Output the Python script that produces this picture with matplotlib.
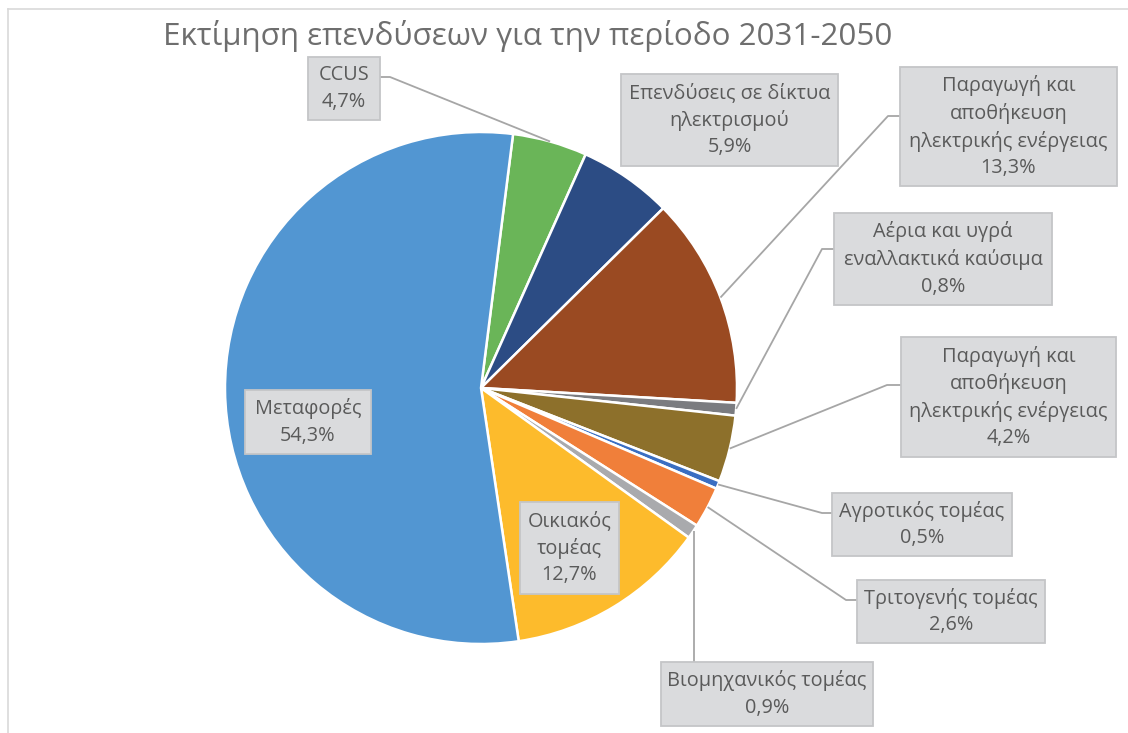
import numpy as np
import matplotlib
matplotlib.use("Agg")
import matplotlib.pyplot as plt
from matplotlib.patches import Rectangle

plt.rcParams['font.family'] = ['Open Sans', 'DejaVu Sans']

# Data (clockwise order from the first slice)
labels = ['CCUS', 'Επενδύσεις σε δίκτυα\nηλεκτρισμού',
          'Παραγωγή και\nαποθήκευση\nηλεκτρικής ενέργειας',
          'Αέρια και υγρά\nεναλλακτικά καύσιμα',
          'Παραγωγή και\nαποθήκευση\nηλεκτρικής ενέργειας',
          'Αγροτικός τομέας', 'Τριτογενής τομέας', 'Βιομηχανικός τομέας',
          'Οικιακός\nτομέας', 'Μεταφορές']
values = [4.7, 5.9, 13.3, 0.8, 4.2, 0.5, 2.6, 0.9, 12.7, 54.3]
pct_labels = ['4,7%', '5,9%', '13,3%', '0,8%', '4,2%', '0,5%', '2,6%', '0,9%', '12,7%', '54,3%']
colors = ['#6AB558', '#2C4C84', '#9A4A22', '#7B7C80', '#8D702B',
          '#3A6EC2', '#F07F3A', '#A9AAAD', '#FDBB2C', '#5296D2']
title = 'Εκτίμηση επενδύσεων για την περίοδο 2031-2050'

W, H = 1128, 733
fig = plt.figure(figsize=(W / 100, H / 100), dpi=100)
ax = fig.add_axes([0, 0, 1, 1])

cx, cy, r = 481, 388, 256
start_cw = 7.2  # degrees clockwise from 12 o'clock

ax.pie(values, colors=colors, startangle=90 - start_cw, counterclock=False,
       center=(cx, H - cy), radius=r,
       wedgeprops=dict(edgecolor='white', linewidth=1.8))
ax.set_xlim(0, W)
ax.set_ylim(0, H)
ax.set_aspect('equal')
ax.axis('off')

# chart border (top and left visible)
ax.plot([8, W], [H - 9, H - 9], color='#D9D9D9', lw=1.2)
ax.plot([8, 8], [H - 9, 0], color='#D9D9D9', lw=1.2)

ax.text(163, H - 36, title, fontsize=22.6, color='#6E6E6E', ha='left', va='center')

# label boxes: (x0, y0, x1, y1) in pixel coords, and leader elbow (or None)
boxes = [(308, 57, 380, 120), (621, 74, 838, 166), (900, 67, 1117, 186),
         (834, 213, 1052, 305), (901, 337, 1116, 457), (832, 493, 1012, 556),
         (857, 580, 1045, 643), (661, 662, 873, 726), (520, 502, 619, 594),
         (245, 390, 371, 454)]
elbows = [((380, 77), (390, 77)), None, ((900, 116), (888, 116)),
          ((834, 249), (822, 249)), ((901, 385), (887, 385)),
          ((832, 513), (822, 513)), ((857, 600), (846, 600)),
          ((694, 662), (694, 662)), None, None]

cum = np.cumsum([0] + values[:-1])
for i, (lab, pct) in enumerate(zip(labels, pct_labels)):
    x0, y0, x1, y1 = boxes[i]
    if elbows[i] is not None:
        mid = np.radians(start_cw + (cum[i] + values[i] / 2) * 3.6)
        ex, ey = cx + r * np.sin(mid), cy - r * np.cos(mid)
        (ax_, ay_), (bx_, by_) = elbows[i]
        if i == 7:
            ex = bx_
        ax.plot([ax_, bx_, ex], [H - ay_, H - by_, H - ey], color='#A6A6A6', lw=1.3,
                solid_capstyle='butt', zorder=3)
    ax.add_patch(Rectangle((x0, H - y1), x1 - x0, y1 - y0, facecolor='#DADBDD',
                           edgecolor='#C4C5C7', lw=1.3, zorder=4))
    ax.text((x0 + x1) / 2, H - (y0 + y1) / 2, lab + '\n' + pct, fontsize=14.3,
            color='#5A5A5A', ha='center', va='center', linespacing=1.42, zorder=5)

fig.savefig('out.png', dpi=100, facecolor='white')
